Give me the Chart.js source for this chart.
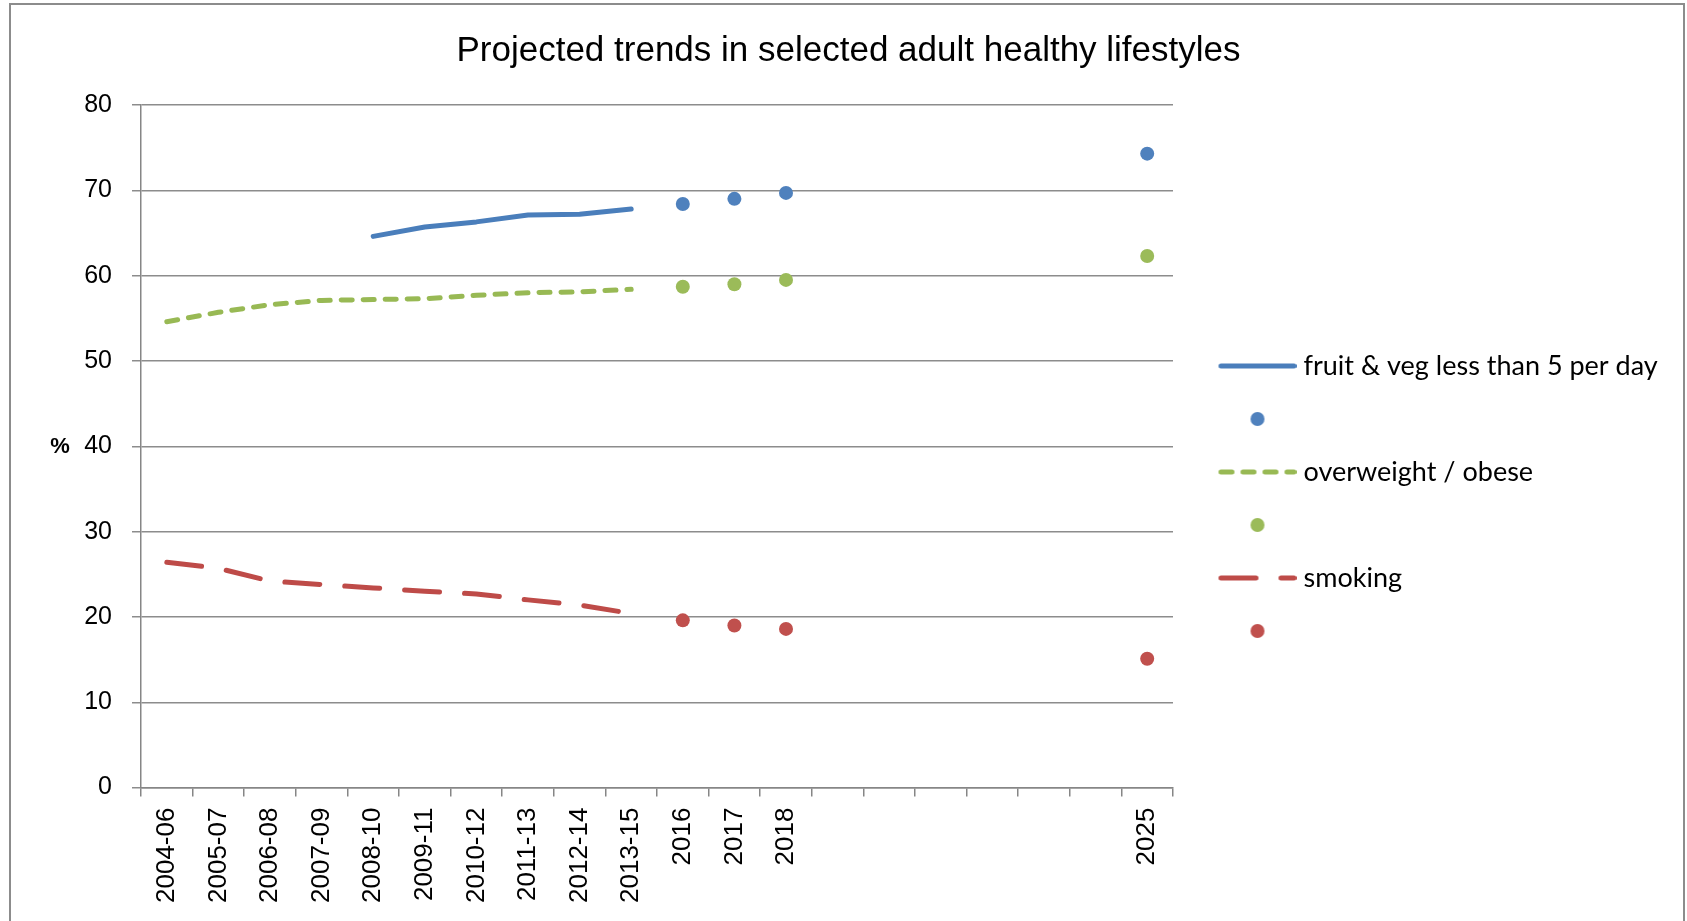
<!DOCTYPE html>
<html>
<head>
<meta charset="utf-8">
<script src="https://cdn.jsdelivr.net/npm/chart.js@4.4.1/dist/chart.umd.min.js"></script>
<style>
  html, body { margin: 0; padding: 0; background: #fff; }
</style>
</head>
<body>
<canvas id="chart" width="1687" height="921"></canvas>
<script>
// categories on the x axis (2019-2024 are empty slots)
const categories = ['2004-06', '2005-07', '2006-08', '2007-09', '2008-10', '2009-11', '2010-12',
    '2011-13', '2012-14', '2013-15', '2016', '2017', '2018', '', '', '', '', '', '', '2025'];

// observed trends (%)
const fruitVeg   = [null, null, null, null, 64.6, 65.7, 66.3, 67.1, 67.2, 67.8,
    null, null, null, null, null, null, null, null, null, null];
const overweight = [54.6, 55.7, 56.6, 57.1, 57.2, 57.3, 57.7, 58.0, 58.1, 58.4,
    null, null, null, null, null, null, null, null, null, null];
const smoking    = [26.4, 25.7, 24.2, 23.8, 23.4, 23.0, 22.7, 22.0, 21.4, 20.4,
    null, null, null, null, null, null, null, null, null, null];

// projections (%)
const fruitVegProj   = [null, null, null, null, null, null, null, null, null, null,
    68.4, 69.0, 69.7, null, null, null, null, null, null, 74.3];
const overweightProj = [null, null, null, null, null, null, null, null, null, null,
    58.7, 59.0, 59.5, null, null, null, null, null, null, 62.3];
const smokingProj    = [null, null, null, null, null, null, null, null, null, null,
    19.6, 19.0, 18.6, null, null, null, null, null, null, 15.1];

const yTicks = [0, 10, 20, 30, 40, 50, 60, 70, 80];

const BLUE = '#4a7ebb', GREEN = '#98b954', RED = '#be4b48';
const BLUE_DOT = '#4f81bd', GREEN_DOT = '#9bbb59', RED_DOT = '#c0504d';
const GREEN_DASH = [11, 11], RED_DASH = [35, 25];
const LEGEND_WIDTH = 514;
const BOTTOM_PAD = 7;

// legend symbols drawn as small canvases
function lineSymbol(color, dash) {
    const c = document.createElement('canvas');
    c.width = 104; c.height = 16;
    const g = c.getContext('2d');
    g.strokeStyle = color; g.lineWidth = 5; g.lineCap = 'round';
    g.setLineDash(dash);
    g.beginPath(); g.moveTo(28.5, 8); g.lineTo(101.5, 8); g.stroke();
    return c;
}
function dotSymbol(color) {
    const c = document.createElement('canvas');
    c.width = 104; c.height = 16;
    const g = c.getContext('2d');
    g.fillStyle = color;
    g.beginPath(); g.arc(65, 8, 7, 0, Math.PI * 2); g.fill();
    return c;
}
const symbols = [lineSymbol(BLUE, []), dotSymbol(BLUE_DOT), lineSymbol(GREEN, GREEN_DASH),
    dotSymbol(GREEN_DOT), lineSymbol(RED, RED_DASH), dotSymbol(RED_DOT)];

function lineSet(label, data, color, dash) {
    return {
        label: label, data: data, borderColor: color, backgroundColor: color,
        borderWidth: 5, borderDash: dash, borderCapStyle: 'round', borderJoinStyle: 'round',
        pointRadius: 0, tension: 0, spanGaps: false
    };
}
function dotSet(data, color) {
    return {
        label: '', data: data, showLine: false, borderColor: color, backgroundColor: color,
        pointRadius: 7, pointBorderWidth: 0, pointStyle: 'circle'
    };
}

// the legend is wider than chart.js lets a side box be by default
const legendFitPlugin = {
    id: 'legendFit',
    afterInit(chart) {
        const legend = chart.legend;
        const fit = legend.fit;
        legend.fit = function () {
            fit.call(this);
            this.width = LEGEND_WIDTH;
        };
    }
};

const framePlugin = {
    id: 'frame',
    beforeDraw(chart) {
        const ctx = chart.ctx;
        ctx.save();
        ctx.fillStyle = '#fff';
        ctx.fillRect(0, 0, chart.width, chart.height);
        ctx.strokeStyle = '#8c8c8c';
        ctx.lineWidth = 2;
        ctx.strokeRect(10, 4, chart.width - 13, chart.height + 20);
        ctx.restore();
    },
    afterDraw(chart) {
        const ctx = chart.ctx;
        const y = chart.scales.y.getPixelForValue(40);
        ctx.save();
        ctx.fillStyle = '#000';
        ctx.font = 'bold 22px "Liberation Sans", Arial, sans-serif';
        ctx.textAlign = 'center';
        ctx.textBaseline = 'middle';
        ctx.fillText('%', 60, y + 1);
        ctx.restore();
    }
};

new Chart(document.getElementById('chart'), {
    type: 'line',
    data: {
        labels: categories,
        datasets: [
            lineSet('fruit & veg less than 5 per day', fruitVeg, BLUE, []),
            dotSet(fruitVegProj, BLUE_DOT),
            lineSet('overweight / obese', overweight, GREEN, GREEN_DASH),
            dotSet(overweightProj, GREEN_DOT),
            lineSet('smoking', smoking, RED, RED_DASH),
            dotSet(smokingProj, RED_DOT)
        ]
    },
    options: {
        responsive: false,
        animation: false,
        layout: { padding: { left: 10, right: 0, top: 0, bottom: BOTTOM_PAD } },
        plugins: {
            title: {
                display: true,
                text: 'Projected trends in selected adult healthy lifestyles',
                color: '#000',
                font: { family: '"Liberation Sans", Arial, sans-serif', size: 35, weight: 'normal' },
                padding: { top: 30, bottom: 33 }
            },
            legend: {
                position: 'right',
                align: 'center',
                title: { display: true, text: '', font: { size: 10, lineHeight: 1 },
                    padding: { top: 66 + BOTTOM_PAD, bottom: 0 } },
                labels: {
                    usePointStyle: true,
                    pointStyleWidth: 91,
                    boxHeight: 16,
                    padding: 26,
                    color: '#000',
                    font: { family: 'Lato, "Noto Sans", sans-serif', size: 27 },
                    generateLabels: chart => chart.data.datasets.map((ds, i) => ({
                        text: ds.label, pointStyle: symbols[i], fillStyle: 'transparent',
                        strokeStyle: 'transparent', lineWidth: 0, hidden: false,
                        datasetIndex: i, fontColor: '#000'
                    }))
                }
            },
            tooltip: { enabled: false }
        },
        scales: {
            x: {
                offset: true,
                grid: { offset: true, drawOnChartArea: false, drawTicks: true, tickLength: 9,
                    color: '#868686', lineWidth: 1.5 },
                border: { color: '#868686', width: 1.5 },
                ticks: { autoSkip: false, minRotation: 90, maxRotation: 90, color: '#000', padding: 11,
                    font: { family: '"Liberation Sans", Arial, sans-serif', size: 26 } }
            },
            y: {
                min: yTicks[0],
                max: yTicks[yTicks.length - 1],
                afterBuildTicks: axis => { axis.ticks = yTicks.map(v => ({ value: v })); },
                afterFit: axis => { axis.width = 131; },
                grid: { color: '#8c8c8c', lineWidth: 1.5, tickLength: 9 },
                border: { color: '#868686', width: 1.5 },
                ticks: { color: '#000', padding: 20,
                    font: { family: '"Liberation Sans", Arial, sans-serif', size: 25 } }
            }
        }
    },
    plugins: [legendFitPlugin, framePlugin]
});
</script>
</body>
</html>
